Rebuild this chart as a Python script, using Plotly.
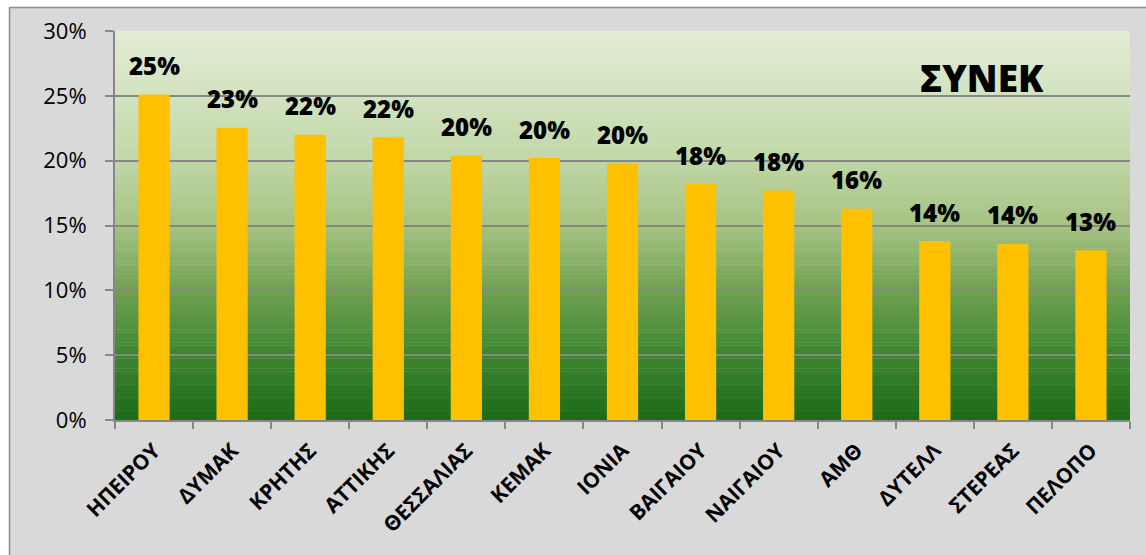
import plotly.graph_objects as go

# Regional values (fraction of total)
regions = ["ΗΠΕΙΡΟΥ", "ΔΥΜΑΚ", "ΚΡΗΤΗΣ", "ΑΤΤΙΚΗΣ", "ΘΕΣΣΑΛΙΑΣ", "ΚΕΜΑΚ", "ΙΟΝΙΑ",
           "ΒΑΙΓΑΙΟΥ", "ΝΑΙΓΑΙΟΥ", "ΑΜΘ", "ΔΥΤΕΛΛ", "ΣΤΕΡΕΑΣ", "ΠΕΛΟΠΟ"]
shares = [0.251, 0.2254, 0.220, 0.218, 0.204, 0.202, 0.198,
          0.182, 0.177, 0.163, 0.138, 0.136, 0.131]
y_ticks = [0, 0.05, 0.10, 0.15, 0.20, 0.25, 0.30]
chart_title = "ΣΥΝΕΚ"

W, H = 1146, 555
ML, MR, MT, MB = 115, 16, 31, 135
PW, PH = W - ML - MR, H - MT - MB

FONT = "Open Sans"
GRID = "#878787"

fig = go.Figure(go.Bar(
    x=regions, y=shares,
    marker=dict(color="#FFC000", line=dict(width=0)),
    width=0.4,
    hoverinfo="skip",
))

# Value labels above each bar
labels = [dict(x=r, y=v, xref="x", yref="y", text="%d%%" % round(v * 100),
               showarrow=False, xanchor="center", yanchor="middle", yshift=29,
               font=dict(family=FONT, size=24, color="black", weight=800))
          for r, v in zip(regions, shares)]


def px_to_paper_x(px):
    return (px - ML) / PW


def px_to_paper_y(py):
    return (H - MB - py) / PH


shapes = []
# Chart area frame
shapes.append(dict(type="rect", xref="paper", yref="paper", layer="below",
                   x0=px_to_paper_x(9.5), x1=px_to_paper_x(W + 20),
                   y0=px_to_paper_y(H + 20), y1=px_to_paper_y(7.5),
                   fillcolor="#D9D9D9", line=dict(color="#8C8C8C", width=1.5)))

# Vertical gradient fill of the plot area
stops = [(0.0, (226, 237, 212)), (0.17, (210, 227, 191)), (0.33, (192, 215, 166)),
         (0.5, (165, 195, 130)), (0.67, (111, 160, 80)), (0.83, (62, 134, 48)),
         (1.0, (28, 106, 24))]


def grad(t):
    for (t0, c0), (t1, c1) in zip(stops[:-1], stops[1:]):
        if t0 <= t <= t1:
            f = (t - t0) / (t1 - t0)
            return "rgb(%d,%d,%d)" % tuple(round(a + (b - a) * f) for a, b in zip(c0, c1))
    return "rgb(%d,%d,%d)" % stops[-1][1]


n = 120
for i in range(n):
    t = (i + 0.5) / n
    shapes.append(dict(type="rect", xref="paper", yref="paper", layer="below",
                       x0=0, x1=1, y0=1 - (i + 1) / n - 0.001, y1=1 - i / n,
                       fillcolor=grad(t), line=dict(width=0)))

fig.update_layout(
    width=W, height=H,
    margin=dict(l=ML, r=MR, t=MT, b=MB),
    paper_bgcolor="white",
    plot_bgcolor="rgba(0,0,0,0)",
    showlegend=False,
    shapes=shapes,
    annotations=labels + [dict(text=chart_title, xref="paper", yref="paper",
                               x=px_to_paper_x(982), y=px_to_paper_y(78),
                               xanchor="center", yanchor="middle", showarrow=False,
                               font=dict(family=FONT, size=37, color="black", weight=800))],
    xaxis=dict(
        tickangle=-45,
        tickfont=dict(family=FONT, size=21, color="black", weight="bold"),
        ticklabelstandoff=8,
        ticks="outside", ticklen=7, tickwidth=2, tickcolor=GRID,
        tickson="boundaries",
        showline=True, linecolor=GRID, linewidth=2,
        showgrid=False,
    ),
    yaxis=dict(
        range=[0, 0.30],
        tickvals=y_ticks,
        tickformat=".0%",
        tickfont=dict(family=FONT, size=22, color="black"),
        ticklabelstandoff=14,
        ticks="outside", ticklen=8, tickwidth=2, tickcolor=GRID,
        showline=True, linecolor=GRID, linewidth=2,
        showgrid=True, gridcolor=GRID, gridwidth=2,
        zeroline=False,
    ),
)
fig.update_layout(font=dict(family=FONT))
fig.write_html("out.html")
